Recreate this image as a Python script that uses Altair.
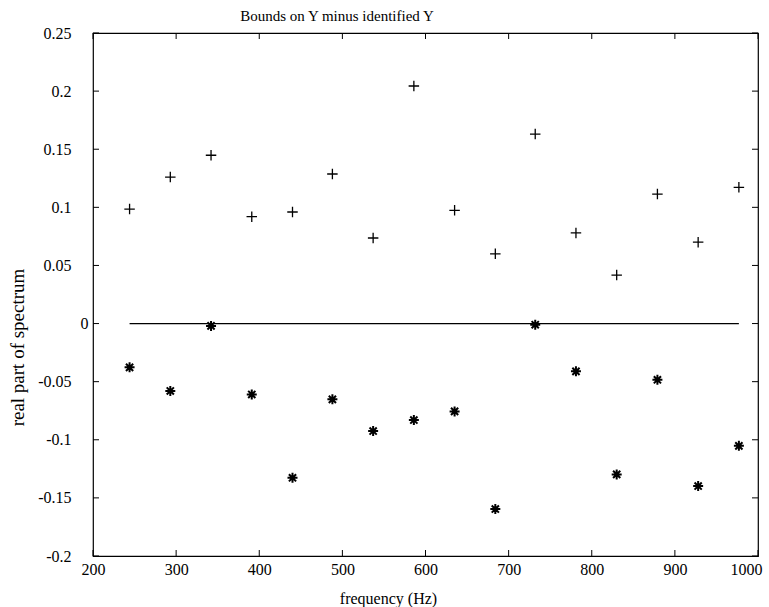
import altair as alt
import pandas as pd

# ---- data ----
freq = [244, 293, 342, 391, 440, 488, 537, 586, 635, 684, 732, 781, 830, 879, 928, 977]
upper = [0.0985, 0.126, 0.1448, 0.092, 0.096, 0.1287, 0.0736, 0.2044,
         0.0974, 0.060, 0.163, 0.078, 0.0417, 0.1114, 0.070, 0.1172]
lower = [-0.0377, -0.058, -0.002, -0.061, -0.1327, -0.0652, -0.0925, -0.083,
         -0.0756, -0.1596, -0.001, -0.0411, -0.1298, -0.0484, -0.1398, -0.1052]
zero_x = [244, 977]
zero_y = [0.0, 0.0]
x_ticks = [200, 300, 400, 500, 600, 700, 800, 900, 1000]
y_ticks = [-0.2, -0.15, -0.1, -0.05, 0, 0.05, 0.1, 0.15, 0.2, 0.25]
title_text = ["Bounds on Y minus identified Y"]

W, H = 665, 523
FONT = "Liberation Serif"

df_up = pd.DataFrame({"freq": freq, "val": upper})
df_lo = pd.DataFrame({"freq": freq, "val": lower})
df_zero = pd.DataFrame({"freq": zero_x, "val": zero_y})
df_xt = pd.DataFrame({"freq": x_ticks})
df_yt = pd.DataFrame({"val": y_ticks})
df_title = pd.DataFrame({"t": title_text})

X = alt.X(
    "freq:Q",
    scale=alt.Scale(domain=[200, 1000], nice=False, zero=False),
    axis=alt.Axis(
        values=x_ticks, ticks=False, domain=False, grid=False,
        labelExpr="'' + datum.value",
        labelFont=FONT, labelFontSize=16, labelColor="black", labelPadding=5,
        labelFlush=False,
        labelAlign={"condition": {"test": "datum.value == 1000", "value": "right"},
                    "value": "center"},
        labelOffset={"condition": {"test": "datum.value == 1000", "value": 4},
                     "value": 0},
        title="frequency (Hz)", titleFont=FONT, titleFontSize=16,
        titleFontWeight="normal", titleColor="black",
        titleX=295, titleY=47, titleAlign="center", titleBaseline="alphabetic",
    ),
)
Y = alt.Y(
    "val:Q",
    scale=alt.Scale(domain=[-0.2, 0.25], nice=False, zero=False),
    axis=alt.Axis(
        values=y_ticks, ticks=False, domain=False, grid=False,
        labelExpr="'' + datum.value",
        labelFont=FONT, labelFontSize=16, labelColor="black",
        labelPadding={"condition": {"test": "datum.value == 0", "value": 5}, "value": 22},
        labelFlush=False,
        title="real part of spectrum", titleFont=FONT, titleFontSize=19,
        titleFontWeight="normal", titleColor="black",
        titleX=-76, titleY=314, titleAngle=270, titleAlign="center",
        titleBaseline="middle",
    ),
)

plus_path = "M-1,0L1,0M0,-1L0,1"
star_path = "M-1,0L1,0M0,-1L0,1M-0.72,-0.72L0.72,0.72M-0.72,0.72L0.72,-0.72"

plus = alt.Chart(df_up).mark_point(
    shape=plus_path, filled=False, color="black", strokeWidth=1.3, size=110, opacity=1
).encode(x=X, y=Y)

star = alt.Chart(df_lo).mark_point(
    shape=star_path, filled=False, color="black", strokeWidth=2, size=100, opacity=1
).encode(x=X, y=Y)

zero = alt.Chart(df_zero).mark_line(color="black", strokeWidth=1.3).encode(x=X, y=Y)

tick_b = alt.Chart(df_xt).mark_rule(color="black", strokeWidth=1).encode(
    x=X, y=alt.value(H), y2=alt.value(H - 6))
tick_t = alt.Chart(df_xt).mark_rule(color="black", strokeWidth=1).encode(
    x=X, y=alt.value(0), y2=alt.value(6))
tick_l = alt.Chart(df_yt).mark_rule(color="black", strokeWidth=1).encode(
    y=Y, x=alt.value(0), x2=alt.value(6))
tick_r = alt.Chart(df_yt).mark_rule(color="black", strokeWidth=1).encode(
    y=Y, x=alt.value(W), x2=alt.value(W - 6))

title = alt.Chart(df_title).mark_text(
    font=FONT, fontSize=15, color="black", align="center", baseline="alphabetic"
).encode(text="t:N", x=alt.value(244), y=alt.value(-12.5))

chart = alt.layer(zero, plus, star, tick_b, tick_t, tick_l, tick_r, title).properties(
    width=W, height=H,
    autosize=alt.AutoSizeParams(type="none"),
    padding={"left": 93, "top": 33, "right": 11, "bottom": 51},
    background="white",
).configure_view(
    stroke="black", strokeWidth=1.2
).configure_axis(
    labelFont=FONT, titleFont=FONT, labelColor="black", titleColor="black"
).configure_text(font=FONT)

chart.save("out.html", embed_options={"renderer": "svg", "actions": False})
